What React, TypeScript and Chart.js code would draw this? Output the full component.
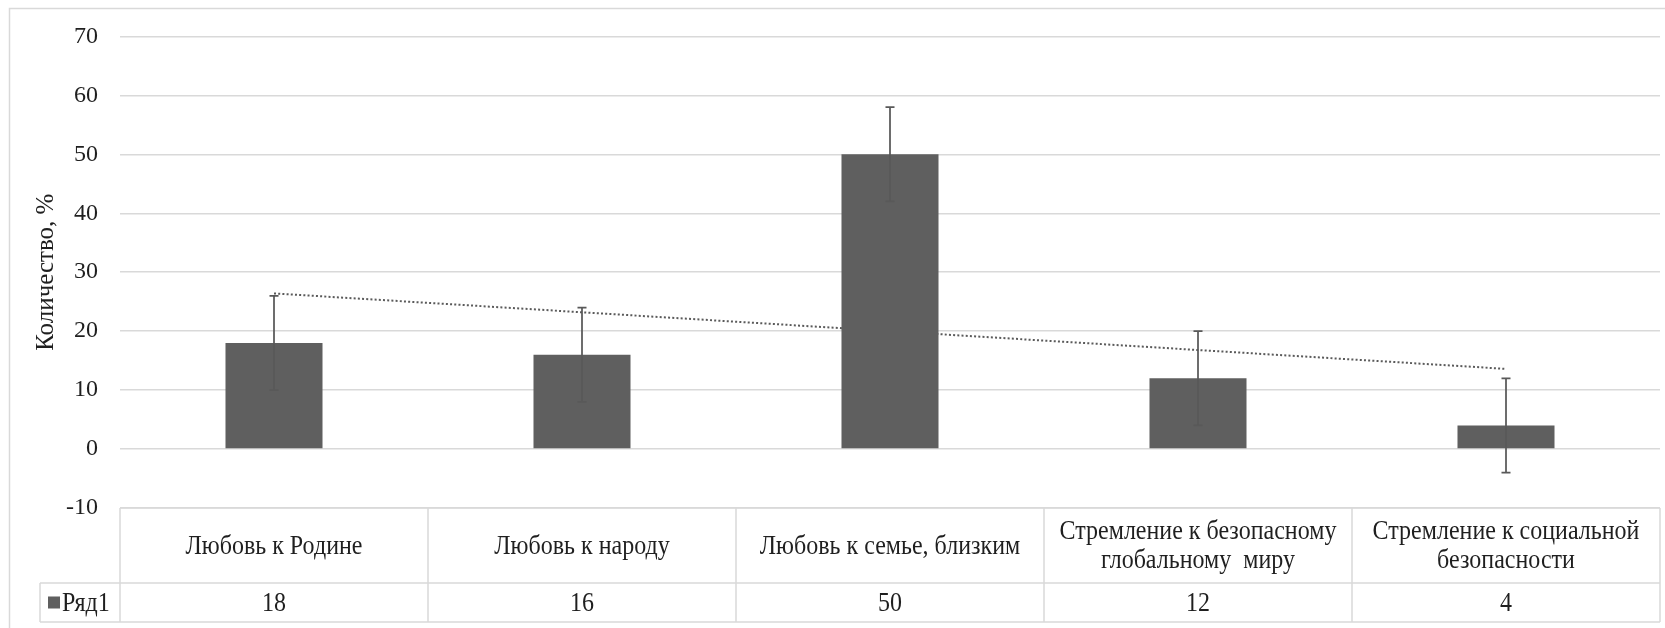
import React, { useEffect, useRef } from "react";
import { Chart, registerables } from "chart.js";

Chart.register(...registerables);

const categoryLines: string[][] = [
  ["Любовь к Родине"],
  ["Любовь к народу"],
  ["Любовь к семье, близким"],
  ["Стремление к безопасному", "глобальному  миру"],
  ["Стремление к социальной", "безопасности"],
];
const seriesName = "Ряд1";
const values = [18, 16, 50, 12, 4];
const errorAmounts = [8, 8, 8, 8, 8];
const trendValues: (number | null)[] = [26.4, null, null, null, 13.6];
const yTicksMin = -10;
const yTicksMax = 70;
const yStep = 10;
const yTitle = "Количество, %";

const FONT = "'Liberation Serif', 'Times New Roman', serif";
const TEXT = "#1f1f1f";
const LINE = "#d9d9d9";
const BAR = "#5f5f5f";

function stretchedText(ctx: CanvasRenderingContext2D, text: string, x: number, y: number, sy: number) {
  ctx.save();
  ctx.translate(x, y);
  ctx.scale(1, sy);
  ctx.fillText(text, 0, 0);
  ctx.restore();
}

const decorPlugin = {
  id: "decor",
  beforeDraw(chart: any) {
    const ctx = chart.ctx;
    ctx.save();
    ctx.fillStyle = "#ffffff";
    ctx.fillRect(0, 0, chart.width, chart.height);
    ctx.strokeStyle = LINE;
    ctx.lineWidth = 1.5;
    ctx.strokeRect(9.5, 8.5, chart.width + 20, chart.height + 20);
    ctx.restore();
  },
  afterDatasetsDraw(chart: any) {
    const ctx = chart.ctx;
    const yScale = chart.scales.y;
    const meta = chart.getDatasetMeta(0);
    ctx.save();
    ctx.strokeStyle = "#595959";
    ctx.lineWidth = 1.75;
    meta.data.forEach((el: any, i: number) => {
      const x = el.x;
      const top = yScale.getPixelForValue(values[i] + errorAmounts[i]);
      const bot = yScale.getPixelForValue(values[i] - errorAmounts[i]);
      ctx.beginPath();
      ctx.moveTo(x, top);
      ctx.lineTo(x, bot);
      ctx.moveTo(x - 4.5, top);
      ctx.lineTo(x + 4.5, top);
      ctx.moveTo(x - 4.5, bot);
      ctx.lineTo(x + 4.5, bot);
      ctx.stroke();
    });
    ctx.restore();
  },
  afterDraw(chart: any) {
    const ctx = chart.ctx;
    const xScale = chart.scales.x;
    const area = chart.chartArea;
    const top = area.bottom;
    const mid = top + 75;
    const bottom = mid + 39;
    const legendLeft = 40;
    const n = values.length;
    const bounds: number[] = [];
    for (let i = 0; i <= n; i++) {
      if (i === 0) bounds.push(area.left);
      else if (i === n) bounds.push(area.right);
      else bounds.push((xScale.getPixelForValue(i - 1) + xScale.getPixelForValue(i)) / 2);
    }
    ctx.save();
    ctx.strokeStyle = LINE;
    ctx.lineWidth = 1.5;
    ctx.beginPath();
    ctx.moveTo(area.left, top);
    ctx.lineTo(area.right, top);
    ctx.moveTo(legendLeft, mid);
    ctx.lineTo(area.right, mid);
    ctx.moveTo(legendLeft, bottom);
    ctx.lineTo(area.right, bottom);
    ctx.moveTo(legendLeft, mid);
    ctx.lineTo(legendLeft, bottom);
    bounds.forEach((b) => {
      ctx.moveTo(b, top);
      ctx.lineTo(b, bottom);
    });
    ctx.stroke();

    const sy = 1.12;
    ctx.fillStyle = TEXT;
    ctx.font = `24px ${FONT}`;
    ctx.textAlign = "center";
    ctx.textBaseline = "middle";
    const catCenter = (top + mid) / 2 + 1;
    const lh = 29;
    categoryLines.forEach((lines, i) => {
      const x = xScale.getPixelForValue(i);
      const startY = catCenter - ((lines.length - 1) * lh) / 2;
      lines.forEach((ln, j) => stretchedText(ctx, ln, x, startY + j * lh, sy));
      stretchedText(ctx, String(values[i]), x, (mid + bottom) / 2 + 1, sy);
    });
    // legend cell
    ctx.fillStyle = BAR;
    ctx.fillRect(48, (mid + bottom) / 2 - 6, 12, 12);
    ctx.fillStyle = TEXT;
    ctx.textAlign = "left";
    stretchedText(ctx, seriesName, 62, (mid + bottom) / 2 + 1, sy);
    ctx.restore();
  },
};

export default function App() {
  const ref = useRef<HTMLCanvasElement | null>(null);
  useEffect(() => {
    if (!ref.current) return;
    const chart = new Chart(ref.current, {
      type: "bar",
      data: {
        labels: categoryLines.map((l) => l.join(" ")),
        datasets: [
          {
            type: "bar",
            label: seriesName,
            data: values,
            backgroundColor: BAR,
            borderWidth: 0,
            barPercentage: 0.315,
            categoryPercentage: 1,
            order: 1,
          },
          {
            type: "line",
            label: "trend",
            data: trendValues,
            spanGaps: true,
            borderColor: "#5a5a5a",
            borderWidth: 2,
            borderDash: [2, 2.2],
            pointRadius: 0,
            fill: false,
            order: 2,
          } as any,
        ],
      },
      options: {
        animation: false,
        responsive: false,
        devicePixelRatio: 1,
        layout: { padding: { left: 0, top: 35, right: 5, bottom: 120 } },
        plugins: { legend: { display: false }, tooltip: { enabled: false } },
        scales: {
          x: { display: false },
          y: {
            min: yTicksMin,
            max: yTicksMax,
            border: { display: false },
            grid: { color: LINE, lineWidth: 1.5, drawTicks: false },
            ticks: {
              stepSize: yStep,
              padding: 22,
              color: TEXT,
              font: { family: FONT, size: 24 },
            },
            title: {
              display: true,
              text: yTitle,
              color: TEXT,
              font: { family: FONT, size: 25 },
              padding: { top: 31, bottom: 0 },
            },
            afterFit: (s: any) => {
              s.width = 120;
            },
          },
        },
      },
      plugins: [decorPlugin],
    });
    return () => chart.destroy();
  }, []);
  return (
    <div style={{ position: "fixed", left: 0, top: 0, width: 1665, height: 628, background: "#fff" }}>
      <canvas ref={ref} width={1665} height={628} style={{ display: "block" }} />
    </div>
  );
}
